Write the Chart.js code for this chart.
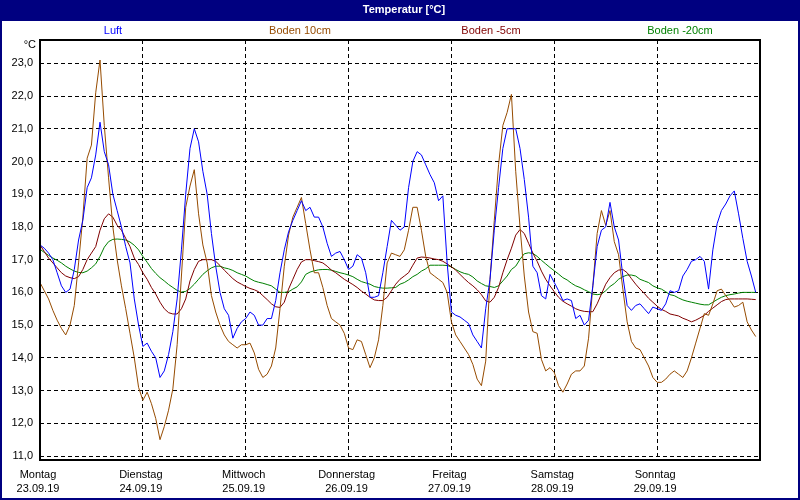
<!DOCTYPE html>
<html>
<head>
<meta charset="utf-8">
<script src="https://cdn.jsdelivr.net/npm/chart.js@4/dist/chart.umd.min.js"></script>
<style>
html,body{margin:0;padding:0;background:#fff;}
#wrap{width:800px;height:500px;position:relative;}
canvas{display:block;}
</style>
</head>
<body>
<div id="wrap"><canvas id="c" width="800" height="500"></canvas></div>
<script>
const titleText = 'Temperatur [°C]';
const unitLabel = '°C';
const seriesNames = ['Luft', 'Boden 10cm', 'Boden -5cm', 'Boden -20cm'];
const seriesColors = ['#0000FF', '#964B00', '#800000', '#008000'];
const dayNames = ['Montag', 'Dienstag', 'Mittwoch', 'Donnerstag', 'Freitag', 'Samstag', 'Sonntag'];
const dayDates = ['23.09.19', '24.09.19', '25.09.19', '26.09.19', '27.09.19', '28.09.19', '29.09.19'];

// hourly values, starting Monday 23.09.19 00:00
const luft = [
17.45,17.35,17.2,17.0,16.6,16.2,16.0,16.1,16.7,17.6,18.2,19.2,19.5,20.2,21.2,20.3,19.9,19.0,18.5,18.0,17.4,16.9,15.8,15.0,
14.35,14.45,14.2,14.0,13.4,13.6,14.1,14.8,15.8,17.3,19.0,20.4,21.0,20.6,19.7,19.0,17.8,16.8,16.0,15.5,15.3,14.6,14.9,15.1,
15.2,15.4,15.3,15.0,15.0,15.2,15.2,15.75,16.6,17.3,17.85,18.2,18.5,18.8,18.5,18.6,18.3,18.3,18.0,17.5,17.1,17.2,17.25,17.0,
16.7,16.8,17.15,17.05,16.6,15.85,15.85,15.9,16.6,17.4,18.2,18.05,17.9,18.0,19.2,20.0,20.3,20.2,19.9,19.6,19.35,18.8,18.95,16.9,
15.4,15.3,15.25,15.15,15.05,14.7,14.5,14.3,15.5,16.4,17.9,19.2,20.4,21.0,21.0,21.0,20.4,19.45,18.3,16.8,16.6,15.9,15.8,16.55,
16.3,16.05,15.75,15.8,15.75,15.2,15.3,15.0,15.15,16.2,17.4,17.9,18.0,18.75,18.0,17.6,16.5,15.6,15.45,15.6,15.65,15.5,15.35,15.55,
15.5,15.45,15.65,16.05,16.0,16.05,16.5,16.7,16.95,17.0,17.1,16.95,16.1,17.3,18.1,18.5,18.7,18.95,19.1,18.4,17.65,16.95,16.5,16.0
];
const boden10 = [
16.3,16.05,15.8,15.45,15.15,14.9,14.7,15.0,15.6,16.9,18.3,20.1,20.5,22.1,23.1,21.1,19.5,18.0,17.0,16.2,15.5,14.75,14.0,13.1,
12.7,12.95,12.6,12.15,11.5,11.9,12.4,13.05,14.4,16.5,18.6,19.25,19.75,18.4,17.45,16.9,15.9,15.4,15.0,14.7,14.5,14.4,14.3,14.4,
14.4,14.45,14.15,13.65,13.4,13.5,13.75,14.3,15.5,16.8,17.75,18.3,18.6,18.9,18.1,17.3,16.6,16.6,16.15,15.6,15.2,15.1,15.0,14.75,
14.3,14.25,14.55,14.5,14.1,13.7,14.0,14.55,15.6,16.9,17.2,17.15,17.1,17.3,17.9,18.6,18.6,17.9,17.1,16.6,16.5,16.4,16.3,16.0,
15.1,14.7,14.5,14.3,14.1,13.8,13.35,13.15,13.9,16.4,18.2,19.9,21.1,21.5,22.05,19.7,18.0,16.5,15.4,14.8,14.75,13.95,13.6,13.7,
13.55,13.15,12.95,13.2,13.5,13.6,13.6,13.75,14.6,16.2,17.8,18.5,18.05,18.5,17.55,17.15,16.1,15.1,14.5,14.3,14.25,14.0,13.75,13.4,
13.25,13.25,13.35,13.5,13.6,13.5,13.4,13.6,14.0,14.45,14.9,15.35,15.3,15.65,16.05,16.1,15.9,15.75,15.55,15.6,15.7,15.1,14.85,14.65
];
const boden5 = [
17.45,17.25,17.05,16.9,16.75,16.6,16.5,16.45,16.42,16.48,16.7,17.0,17.2,17.4,17.9,18.25,18.4,18.3,18.05,17.9,17.65,17.4,17.05,16.85,
16.6,16.4,16.15,15.95,15.7,15.5,15.38,15.34,15.34,15.5,15.8,16.35,16.7,16.95,17.0,17.0,17.0,16.95,16.82,16.68,16.55,16.42,16.32,16.25,
16.18,16.12,16.08,16.02,15.9,15.78,15.65,15.56,15.54,15.7,16.1,16.4,16.7,16.93,17.0,17.0,16.97,16.94,16.9,16.8,16.68,16.6,16.5,16.4,
16.32,16.24,16.15,16.04,15.95,15.85,15.77,15.75,15.75,15.85,16.05,16.25,16.4,16.5,16.6,16.83,17.05,17.08,17.07,17.05,17.02,17.0,16.95,16.87,
16.78,16.68,16.55,16.42,16.3,16.2,16.08,15.93,15.74,15.7,15.85,16.15,16.6,17.0,17.35,17.75,17.92,17.8,17.5,17.2,16.95,16.65,16.4,16.2,
16.02,15.85,15.73,15.65,15.58,15.5,15.45,15.42,15.41,15.41,15.65,15.95,16.25,16.45,16.6,16.68,16.7,16.6,16.42,16.25,16.1,15.97,15.82,15.7,
15.58,15.48,15.42,15.34,15.31,15.28,15.21,15.16,15.1,15.15,15.22,15.3,15.42,15.52,15.62,15.72,15.78,15.8,15.8,15.8,15.8,15.8,15.79,15.78
];
const boden20 = [
17.32,17.22,17.13,17.05,16.98,16.9,16.8,16.72,16.65,16.61,16.6,16.65,16.75,16.87,17.1,17.38,17.55,17.62,17.63,17.62,17.6,17.54,17.44,17.3,
17.1,16.92,16.73,16.58,16.45,16.35,16.24,16.15,16.06,16.01,16.03,16.12,16.25,16.4,16.55,16.66,16.75,16.8,16.8,16.75,16.72,16.67,16.6,16.55,
16.5,16.42,16.35,16.31,16.28,16.24,16.2,16.1,16.0,16.0,16.02,16.1,16.17,16.32,16.55,16.62,16.66,16.69,16.7,16.7,16.68,16.64,16.6,16.57,
16.53,16.48,16.4,16.33,16.29,16.25,16.18,16.15,16.13,16.13,16.14,16.15,16.25,16.3,16.38,16.48,16.55,16.65,16.72,16.83,16.83,16.83,16.83,16.82,
16.78,16.7,16.63,16.58,16.55,16.47,16.35,16.27,16.2,16.18,16.15,16.2,16.35,16.5,16.7,16.8,17.01,17.18,17.21,17.19,17.1,16.98,16.87,16.76,
16.66,16.56,16.45,16.38,16.28,16.2,16.15,16.08,16.02,15.95,15.93,15.95,16.05,16.18,16.27,16.4,16.48,16.53,16.53,16.5,16.4,16.35,16.3,16.2,
16.14,16.1,16.02,15.93,15.9,15.83,15.77,15.73,15.7,15.67,15.64,15.62,15.62,15.7,15.78,15.85,15.9,15.93,15.95,15.98,16.0,16.0,16.0,16.0
];
const allSeries = [luft, boden10, boden5, boden20];
const legendCenters = [113, 300, 491, 680];

const FONT = 'Liberation Sans';
Chart.defaults.font.family = FONT;
Chart.defaults.font.size = 11;
Chart.defaults.color = '#000';

const decor = {
  id: 'decor',
  beforeDraw(chart) {
    const ctx = chart.ctx;
    ctx.save();
    ctx.fillStyle = '#fff';
    ctx.fillRect(0, 0, chart.width, chart.height);
    ctx.restore();
  },
  afterDraw(chart) {
    const ctx = chart.ctx;
    const a = chart.chartArea;
    ctx.save();
    // title bar and outer frame
    ctx.fillStyle = '#000080';
    ctx.fillRect(0, 0, 800, 21);
    ctx.fillRect(0, 0, 2, 500);
    ctx.fillRect(798, 0, 2, 500);
    ctx.fillRect(0, 498, 800, 2);
    ctx.fillStyle = '#fff';
    ctx.font = 'bold 11px "' + FONT + '"';
    ctx.textAlign = 'center';
    ctx.textBaseline = 'middle';
    ctx.fillText(titleText, 404, 10);
    // legend labels
    ctx.font = '11px "' + FONT + '"';
    seriesNames.forEach((n, i) => {
      ctx.fillStyle = seriesColors[i];
      ctx.fillText(n, legendCenters[i], 31);
    });
    // unit
    ctx.fillStyle = '#000';
    ctx.textAlign = 'right';
    ctx.fillText(unitLabel, 36, 45);
    // plot frame
    const l = Math.round(a.left), t = Math.round(a.top), r = Math.round(a.right), b = Math.round(a.bottom);
    ctx.fillRect(l - 1, t - 1, r - l + 2, 2);
    ctx.fillRect(l - 1, t - 1, 2, b - t + 2);
    ctx.fillRect(l - 1, b - 1, r - l + 2, 2);
    ctx.fillRect(r - 1, t - 1, 2, b - t + 2);
    ctx.restore();
  }
};

new Chart(document.getElementById('c'), {
  type: 'line',
  data: {
    datasets: allSeries.map((arr, i) => ({
      label: seriesNames[i],
      data: arr.map((v, h) => ({ x: h, y: v })),
      borderColor: seriesColors[i],
      backgroundColor: seriesColors[i],
      borderWidth: 1,
      pointRadius: 0,
      tension: 0,
      fill: false
    }))
  },
  options: {
    responsive: false,
    animation: false,
    devicePixelRatio: 1,
    layout: { padding: { left: 0, right: 40, top: 40, bottom: 0 } },
    plugins: { legend: { display: false }, title: { display: false }, tooltip: { enabled: false } },
    scales: {
      x: {
        type: 'linear', min: 0, max: 168,
        afterFit(s) { s.height = 40; },
        ticks: {
          stepSize: 24, autoSkip: false, maxRotation: 0, minRotation: 0, padding: 7, labelOffset: -2,
          color: '#000', font: { family: FONT, size: 11, lineHeight: 1.36 },
          callback: (v) => { const i = Math.round(v / 24); return i < dayNames.length ? [dayNames[i], dayDates[i]] : ''; }
        },
        grid: { color: '#000', lineWidth: 1, drawTicks: false },
        border: { display: false, dash: [4, 3] }
      },
      y: {
        type: 'linear', min: 10.878, max: 23.712,
        afterFit(s) { s.width = 40; },
        ticks: {
          stepSize: 1, includeBounds: false, autoSkip: false, padding: 7,
          color: '#000', font: { family: FONT, size: 11 },
          callback: (v) => v.toFixed(1).replace('.', ',')
        },
        grid: { color: '#000', lineWidth: 1, drawTicks: false },
        border: { display: false, dash: [4, 3] }
      }
    }
  },
  plugins: [decor]
});
</script>
</body>
</html>
